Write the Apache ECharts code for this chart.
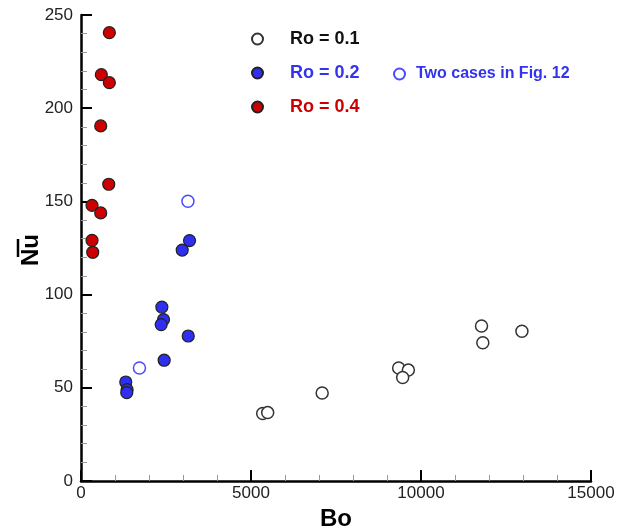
<!DOCTYPE html>
<html>
<head>
<meta charset="utf-8">
<script src="https://cdn.jsdelivr.net/npm/echarts@6/dist/echarts.min.js"></script>
<style>html,body{margin:0;padding:0;background:#fff}#c{width:636px;height:529px}</style>
</head>
<body>
<div id="c"></div>
<script>
// Ro = 0.1 (open black circles): [Bo, Nu]
const ro01 = [[5344,36.2],[5491,36.7],[7093,47.2],[9343,60.6],[9628,59.5],[9461,55.5],[11780,83.2],[11818,74.2],[12968,80.3]];
// Ro = 0.2 (filled blue)
const ro02 = [[3192,129.0],[2977,123.9],[2378,93.3],[2427,86.6],[2358,83.9],[3154,77.8],[2446,64.8],[1317,53.1],[1356,49.0],[1346,47.4]];
// Ro = 0.4 (filled red)
const ro04 = [[834,240.5],[598,218.0],[834,213.7],[580,190.5],[816,159.2],[324,147.9],[580,143.8],[324,129.1],[345,122.7]];
// Two cases in Fig. 12 (open blue)
const fig12 = [[3145,150.1],[1719,60.6]];

const xTicks = {min:0, max:15000, interval:5000};
const yTicks = {min:0, max:250, interval:50};

const FONT = 'Liberation Sans, Arial, sans-serif';
const chart = echarts.init(document.getElementById('c'));
const axisCommon = {
  axisLine:{show:true, lineStyle:{color:'#000', width:2.5}},
  axisTick:{show:true, inside:true, length:11, lineStyle:{color:'#000', width:2}},
  minorTick:{show:true, splitNumber:5, length:6, lineStyle:{color:'#999', width:1}},
  splitLine:{show:false}
};
const plain = v => String(v);
chart.setOption({
  animation:false,
  grid:{left:81, right:45, top:15, bottom:48, containLabel:false, outerBoundsMode:'none'},
  xAxis:Object.assign({type:'value', min:xTicks.min, max:xTicks.max, interval:xTicks.interval,
    name:'Bo', nameLocation:'middle', nameGap:23,
    nameTextStyle:{fontSize:24, fontWeight:'bold', color:'#000', fontFamily:FONT}}, axisCommon,
    {axisLabel:{color:'#222', fontSize:17, fontFamily:FONT, margin:4, formatter:plain}}),
  yAxis:Object.assign({type:'value', min:yTicks.min, max:yTicks.max, interval:yTicks.interval}, axisCommon,
    {axisLabel:{color:'#222', fontSize:17, fontFamily:FONT, margin:8, formatter:plain}}),
  legend:[
    {orient:'vertical', left:251, top:30, itemGap:16, itemWidth:11, itemHeight:11, icon:'circle',
     textStyle:{fontSize:18, fontWeight:'bold', fontFamily:FONT, padding:[0,0,0,22]}, padding:0,
     data:[
       {name:'Ro = 0.1', textStyle:{color:'#111'}},
       {name:'Ro = 0.2', textStyle:{color:'#3333ee'}},
       {name:'Ro = 0.4', textStyle:{color:'#cc0000'}}
     ]},
    {left:393, top:66, itemWidth:11, itemHeight:11, icon:'circle', padding:0,
     textStyle:{fontSize:16, fontWeight:'bold', fontFamily:FONT, color:'#3333ee', padding:[0,0,0,6]},
     data:[{name:'Two cases in Fig. 12'}]}
  ],
  graphic:[
    {type:'text', x:31, y:250, rotation:Math.PI/2,
     style:{text:'Nu', font:'bold 24px ' + FONT, fill:'#000', align:'center', verticalAlign:'middle'}},
    {type:'line', shape:{x1:18, y1:239, x2:18, y2:257}, style:{stroke:'#000', lineWidth:2.5}}
  ],
  series:[
    {name:'Ro = 0.1', type:'scatter', data:ro01, symbolSize:12,
     itemStyle:{color:'#fff', borderColor:'#333', borderWidth:1.5, opacity:1}},
    {name:'Ro = 0.2', type:'scatter', data:ro02, symbolSize:12,
     itemStyle:{color:'#2f2ff0', borderColor:'#222', borderWidth:1.2, opacity:1}},
    {name:'Ro = 0.4', type:'scatter', data:ro04, symbolSize:12,
     itemStyle:{color:'#cc0000', borderColor:'#222', borderWidth:1.2, opacity:1}},
    {name:'Two cases in Fig. 12', type:'scatter', data:fig12, symbolSize:12,
     itemStyle:{color:'#fff', borderColor:'#4a4aff', borderWidth:1.5, opacity:1}}
  ]
});
</script>
</body>
</html>
